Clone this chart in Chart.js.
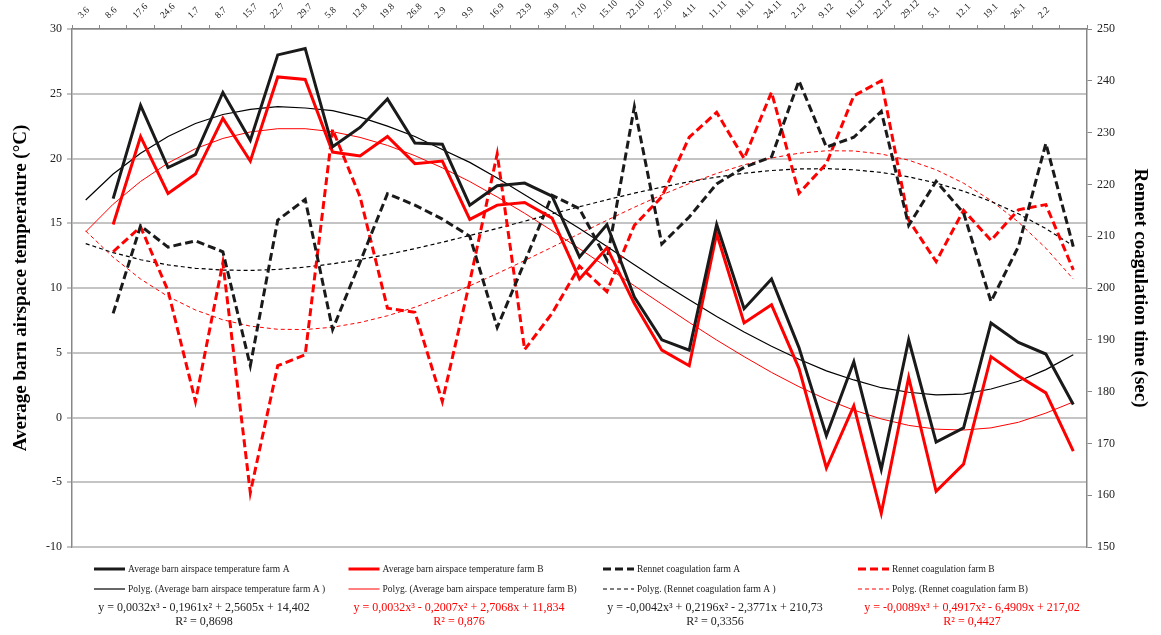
<!DOCTYPE html>
<html><head><meta charset="utf-8">
<script src="https://cdn.jsdelivr.net/npm/chart.js@4.4.1/dist/chart.umd.min.js"></script>
<style>html,body{margin:0;padding:0;background:#fff;}#wrap{position:relative;width:1161px;height:635px;}</style>
</head><body><div id="wrap"><canvas id="c" width="1161" height="635"></canvas></div>
<script>
// ---- data ----
const dates = ['3.6','8.6','17.6','24.6','1.7','8.7','15.7','22.7','29.7','5.8','12.8','19.8','26.8','2.9','9.9','16.9','23.9','30.9','7.10','15.10','22.10','27.10','4.11','11.11','18.11','24.11','2.12','9.12','16.12','22.12','29.12','5.1','12.1','19.1','26.1','2.2',''];
const tempA = [null,16.9,24.1,19.3,20.3,25.1,21.4,28.0,28.5,20.9,22.4,24.6,21.2,21.1,16.4,17.9,18.1,17.1,12.4,14.9,9.3,6.0,5.2,14.9,8.4,10.7,5.4,-1.4,4.3,-4.0,6.0,-1.9,-0.8,7.3,5.8,4.9,1.0];
const tempB = [null,14.9,21.7,17.3,18.8,23.1,19.8,26.3,26.1,20.5,20.2,21.7,19.6,19.8,15.3,16.4,16.6,15.4,10.7,13.1,8.8,5.2,4.0,14.2,7.3,8.7,3.8,-3.9,0.9,-7.4,3.1,-5.7,-3.6,4.7,3.2,1.9,-2.6];
const rennetA = [null,195.1,212.0,207.9,209.1,207.0,185.0,213.1,217.1,192.0,205.0,218.2,216.0,213.3,210.0,192.4,205.0,217.9,215.3,205.4,235.0,208.5,213.7,220.1,223.3,225.3,240.0,227.2,229.1,234.1,212.1,220.6,214.5,197.4,208.0,227.9,208.0];
const rennetB = [null,207.0,211.8,199.5,178.1,204.9,160.5,185.0,187.1,230.6,217.6,196.1,195.3,178.1,201.2,225.9,188.1,195.1,204.2,199.3,212.1,217.6,229.1,233.9,225.0,237.8,218.3,224.0,237.1,240.0,213.1,205.1,215.0,209.2,215.1,216.1,203.5];
const polyTempA = [16.8,18.8,20.4,21.7,22.7,23.4,23.8,24.0,23.9,23.7,23.2,22.5,21.7,20.7,19.7,18.5,17.2,15.9,14.6,13.2,11.8,10.4,9.1,7.8,6.6,5.5,4.5,3.6,2.9,2.3,1.95,1.75,1.8,2.2,2.8,3.7,4.85];
const polyTempB = [14.34,16.47,18.23,19.65,20.76,21.55,22.05,22.30,22.30,22.07,21.63,21.01,20.22,19.28,18.22,17.03,15.77,14.42,13.03,11.61,10.17,8.75,7.34,5.98,4.70,3.48,2.38,1.40,0.57,-0.11,-0.61,-0.90,-0.97,-0.80,-0.37,0.34,1.2];
const polyRennetA = [208.57,206.82,205.46,204.46,203.80,203.46,203.39,203.59,204.03,204.67,205.50,206.48,207.60,208.83,210.14,211.51,212.90,214.31,215.69,217.03,218.30,219.47,220.52,221.42,222.15,222.68,222.98,223.04,222.82,222.31,221.46,220.27,218.70,216.72,214.32,211.47,208.13];
const polyRennetB = [211.01,205.93,201.73,198.36,195.75,193.86,192.64,192.03,191.98,192.43,193.34,194.64,196.29,198.24,200.42,202.79,205.30,207.88,210.49,213.08,215.59,217.97,220.16,222.12,223.78,225.10,226.02,226.49,226.46,225.87,224.68,222.82,220.24,216.89,212.73,207.69,201.72];
const seriesNames = ['Average barn airspace temperature farm A','Average barn airspace temperature farm B','Rennet coagulation farm A','Rennet coagulation farm B'];
const trendNames = ['Polyg. (Average barn airspace temperature farm A )','Polyg. (Average barn airspace temperature farm B)','Polyg. (Rennet coagulation farm A )','Polyg. (Rennet coagulation farm B)'];
const eqLines = ['y = 0,0032x\u00b3 - 0,1961x\u00b2 + 2,5605x + 14,402','y = 0,0032x\u00b3 - 0,2007x\u00b2 + 2,7068x + 11,834','y = -0,0042x\u00b3 + 0,2196x\u00b2 - 2,3771x + 210,73','y = -0,0089x\u00b3 + 0,4917x\u00b2 - 6,4909x + 217,02'];
const r2Lines = ['R\u00b2 = 0,8698','R\u00b2 = 0,876','R\u00b2 = 0,3356','R\u00b2 = 0,4427'];

// ---- styling / layout ----
const FONT = '"Liberation Serif", "Times New Roman", serif';
const BLACK = '#1a1a1a', RED = '#ff0000';
const legendColX = [94, 348.5, 603, 858];
const legendRowY = [569, 589];
const eqCenterX = [204, 459, 715, 972];
const eqRowY = [608, 622];
const eqColors = ['#222', RED, '#222', RED];

const legendPlugin = {
  id: 'customLegend',
  afterDraw(chart) {
    const ctx = chart.ctx;
    ctx.save();
    chart.data.datasets.forEach((d, i) => {
      const col = i % 4, row = Math.floor(i / 4);
      const x = legendColX[col], y = legendRowY[row];
      ctx.beginPath();
      ctx.strokeStyle = d.borderColor;
      ctx.lineWidth = d.borderWidth;
      ctx.setLineDash(d.borderDash || []);
      ctx.moveTo(x, y); ctx.lineTo(x + 31, y); ctx.stroke();
      ctx.setLineDash([]);
      ctx.fillStyle = '#222';
      ctx.font = '9.5px ' + FONT;
      ctx.textBaseline = 'middle';
      ctx.textAlign = 'left';
      ctx.fillText(d.label, x + 34, y);
    });
    ctx.font = '12px ' + FONT;
    ctx.textAlign = 'center';
    eqLines.forEach((t, i) => {
      ctx.fillStyle = eqColors[i];
      ctx.fillText(t, eqCenterX[i], eqRowY[0]);
      ctx.fillText(r2Lines[i], eqCenterX[i], eqRowY[1]);
    });
    ctx.restore();
  }
};

const line = (label, data, color, width, dash, axis) => ({
  label, data, borderColor: color, backgroundColor: color, borderWidth: width,
  borderDash: dash, yAxisID: axis, pointRadius: 0, tension: 0, fill: false, spanGaps: false
});

new Chart(document.getElementById('c'), {
  type: 'line',
  data: {
    labels: dates,
    datasets: [
      line(seriesNames[0], tempA, BLACK, 3, [], 'y'),
      line(seriesNames[1], tempB, RED, 3, [], 'y'),
      line(seriesNames[2], rennetA, BLACK, 3, [8, 4], 'y1'),
      line(seriesNames[3], rennetB, RED, 3, [8, 4], 'y1'),
      line(trendNames[0], polyTempA, '#000', 1.2, [], 'y'),
      line(trendNames[1], polyTempB, RED, 1, [], 'y'),
      line(trendNames[2], polyRennetA, '#000', 1.2, [4, 3], 'y1'),
      line(trendNames[3], polyRennetB, RED, 1, [4, 3], 'y1')
    ]
  },
  options: {
    responsive: false, devicePixelRatio: 1, animation: false,
    layout: { padding: { left: 0, right: 0, top: 0, bottom: 88 } },
    plugins: { legend: { display: false }, tooltip: { enabled: false } },
    scales: {
      x: {
        type: 'category', position: 'top', offset: true,
        grid: { offset: true, drawOnChartArea: false, drawTicks: true, tickLength: 4, color: '#888', lineWidth: 1 },
        border: { display: true, color: '#888', width: 1.5 },
        ticks: { autoSkip: false, maxRotation: 45, minRotation: 45, padding: 4, labelOffset: 2,
                 font: { family: FONT, size: 9.5 }, color: '#222' },
        afterFit(s) { s.height = 29; }
      },
      y: {
        position: 'left', min: -10, max: 30,
        ticks: { stepSize: 5, padding: 5, font: { family: FONT, size: 12 }, color: '#222' },
        grid: { color: '#c4c4c4', lineWidth: 2, tickLength: 5, drawTicks: true },
        border: { color: '#888', width: 1.5 },
        title: { display: true, text: 'Average barn airspace temperature (\u00b0C)', color: '#000',
                 font: { family: FONT, size: 19, weight: 'bold' }, padding: { top: 10, bottom: 0 } },
        afterFit(s) { s.width = 72; }
      },
      y1: {
        position: 'right', min: 150, max: 250,
        ticks: { stepSize: 10, padding: 5, font: { family: FONT, size: 12 }, color: '#222' },
        grid: { drawOnChartArea: false, drawTicks: true, tickLength: 5, color: '#888' },
        border: { color: '#888', width: 1.5 },
        title: { display: true, text: 'Rennet coagulation time (sec)', color: '#000',
                 font: { family: FONT, size: 19, weight: 'bold' }, padding: { top: 10, bottom: 0 } },
        afterFit(s) { s.width = 74; }
      }
    }
  },
  plugins: [legendPlugin]
});
</script></body></html>
